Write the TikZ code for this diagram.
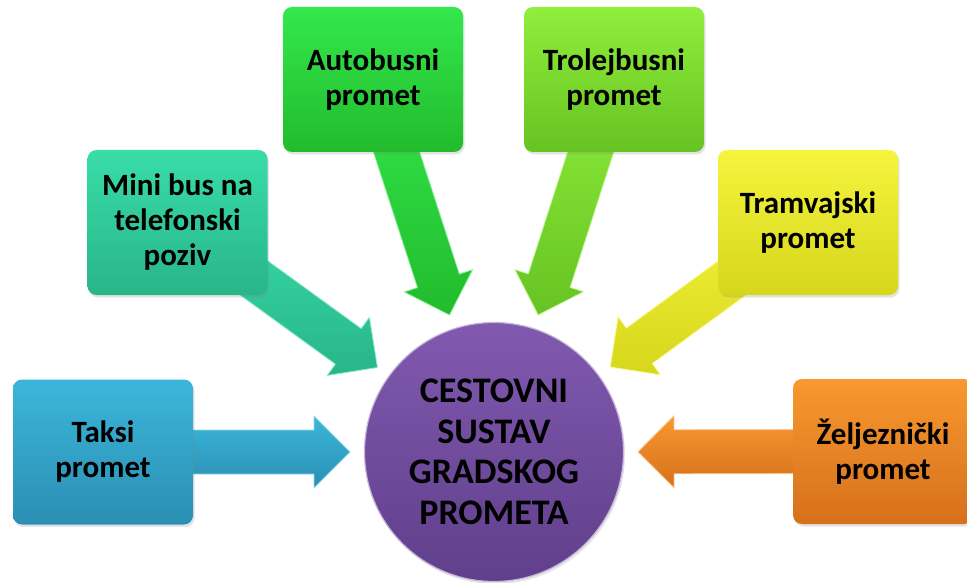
\documentclass[tikz,border=0pt]{standalone}
\usepackage{fontspec}
\setmainfont{Carlito}
\usetikzlibrary{calc,shadows}
\pgfdeclarelayer{bg}
\pgfsetlayers{bg,main}
\definecolor{taksiA}{HTML}{3BB6DA}
\definecolor{taksiB}{HTML}{2A8FB3}
\definecolor{miniA}{HTML}{38DDA8}
\definecolor{miniB}{HTML}{29B589}
\definecolor{autoA}{HTML}{33E84C}
\definecolor{autoB}{HTML}{22BB2C}
\definecolor{troliA}{HTML}{90EE3C}
\definecolor{troliB}{HTML}{66C322}
\definecolor{tramA}{HTML}{F6F43E}
\definecolor{tramB}{HTML}{D6D61C}
\definecolor{zeljA}{HTML}{F8982F}
\definecolor{zeljB}{HTML}{D6701B}
\definecolor{circA}{HTML}{8159AF}
\definecolor{circB}{HTML}{603F8B}
\newcommand\blockarrow[3]{%
  \coordinate (T) at ($(c.center)!144pt!(#1.center)$);
  \coordinate (B) at ($(T)!36pt!(#1.center)$);
  \path[top color=#2, bottom color=#3, draw=#2!55!white, line width=0.8pt, line join=round]
    ($(#1.center)!22pt!90:(T)$) -- ($(B)!22pt!90:(T)$) -- ($(B)!36pt!90:(T)$) --
    (T) -- ($(B)!36pt!-90:(T)$) -- ($(B)!22pt!-90:(T)$) -- ($(#1.center)!22pt!-90:(T)$) -- cycle;
}
\tikzset{
  box/.style={rectangle, rounded corners=9pt, minimum width=180pt, minimum height=145pt,
    align=center, font=\fontsize{31}{35}\selectfont\bfseries, text=black,
    drop shadow={opacity=0.22, shadow xshift=1.5pt, shadow yshift=-2.5pt}},
  hub/.style={circle, minimum size=259pt, inner sep=0pt, align=center,
    font=\fontsize{36}{40.5}\selectfont\bfseries, text=black,
    top color=circA, bottom color=circB, draw=circA!45!white, line width=1.2pt,
    drop shadow={opacity=0.2, shadow xshift=1.5pt, shadow yshift=-2.5pt}}
}
\begin{document}
\begin{tikzpicture}[x=1pt,y=-1pt]
\useasboundingbox (0,0) rectangle (967,583);
\clip (0,0) rectangle (967,583);
\node[hub] (c) at (494,452) {CESTOVNI\\SUSTAV\\GRADSKOG\\PROMETA};
\node[box, top color=taksiA, bottom color=taksiB] (taksi) at (103,452) {Taksi\\promet};
\node[box, top color=miniA, bottom color=miniB] (mini) at (177.5,222.5) {Mini bus na\\telefonski\\poziv};
\node[box, top color=autoA, bottom color=autoB] (auto) at (373,79.5) {Autobusni\\promet};
\node[box, top color=troliA, bottom color=troliB] (troli) at (614,79.5) {Trolejbusni\\promet};
\node[box, top color=tramA, bottom color=tramB] (tram) at (808,222.5) {Tramvajski\\promet};
\node[box, top color=zeljA, bottom color=zeljB] (zelj) at (883,451.5) {Željeznički\\promet};
\begin{pgfonlayer}{bg}
\blockarrow{taksi}{taksiA}{taksiB}
\blockarrow{mini}{miniA}{miniB}
\blockarrow{auto}{autoA}{autoB}
\blockarrow{troli}{troliA}{troliB}
\blockarrow{tram}{tramA}{tramB}
\blockarrow{zelj}{zeljA}{zeljB}
\end{pgfonlayer}
\end{tikzpicture}
\end{document}
